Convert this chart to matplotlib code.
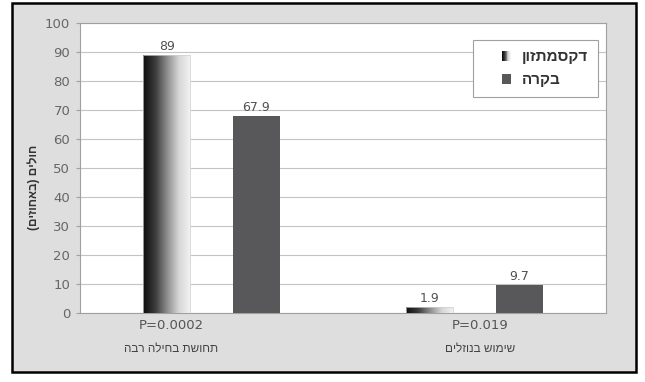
import numpy as np
import matplotlib
matplotlib.use("Agg")
import matplotlib.pyplot as plt
from matplotlib.patches import Rectangle, Patch
from matplotlib.colors import LinearSegmentedColormap
from matplotlib.legend_handler import HandlerBase
from matplotlib.transforms import ScaledTranslation

categories = ["תחושת בחילה רבה", "שימוש בנוזלים"]
p_values = ["P=0.0002", "P=0.019"]
dexa = [89, 1.9]
control = [67.9, 9.7]
series_names = ["דקסמתזון", "בקרה"]
y_label = "חולים (באחוזים)"
y_ticks = list(range(0, 101, 10))


def rtl(s):
    # matplotlib has no bidi support, so reverse hebrew by hand
    flip = {"(": ")", ")": "("}
    return "".join(flip.get(c, c) for c in reversed(s))


grad_cmap = LinearSegmentedColormap.from_list(
    "bar_grad", ["#0e0e0e", "#3a3a3a", "#8c8c8c", "#d6d6d6", "#f4f4f4"])


class SquareHandler(HandlerBase):
    # square key pushed to the right end of the handle slot, optional gradient
    def __init__(self, gradient=False):
        super().__init__()
        self.gradient = gradient

    def create_artists(self, legend, orig_handle, xdescent, ydescent,
                       width, height, fontsize, trans):
        x0 = -xdescent + width - height
        if not self.gradient:
            return [Rectangle((x0, -ydescent), height, height,
                              facecolor=orig_handle.get_facecolor(), edgecolor="none",
                              transform=trans)]
        n = 10
        return [Rectangle((x0 + i * height / n, -ydescent), height / n, height,
                          facecolor=grad_cmap(i / (n - 1)), edgecolor="none",
                          transform=trans) for i in range(n)]


NUM_FONT = ["DejaVu Sans"]
HEB_FONT = ["Liberation Sans", "DejaVu Sans"]
plt.rcParams["font.family"] = HEB_FONT

fig = plt.figure(figsize=(6.45, 3.82), dpi=100)
fig.add_artist(Rectangle((12 / 645, 1 - 372 / 382), 624 / 645, 369 / 382,
                         transform=fig.transFigure, facecolor="#dedede",
                         edgecolor="black", linewidth=1.8, zorder=-1))
ax = fig.add_axes([80 / 645, 1 - 313 / 382, 526 / 645, 290 / 382])
ax.set_facecolor("white")

x = np.arange(len(categories))
w = 0.18
off = 0.17

b1 = ax.bar(x - off, dexa, w, color="none", edgecolor="#cfcfcf", linewidth=0.5, zorder=3)
grad = np.linspace(0, 1, 256).reshape(1, -1)
for rect in b1:
    im = ax.imshow(grad, cmap=grad_cmap, aspect="auto", zorder=2.9,
                   extent=[rect.get_x(), rect.get_x() + rect.get_width(), 0, rect.get_height()])
    im.set_clip_path(rect)
b2 = ax.bar(x + off, control, w, color="#58585a", zorder=3)

for bars, vals in [(b1, dexa), (b2, control)]:
    for rect, v in zip(bars, vals):
        ax.annotate(f"{v:g}", (rect.get_x() + rect.get_width() / 2, v),
                    xytext=(0, 1.5), textcoords="offset points", family=NUM_FONT,
                    ha="center", va="bottom", fontsize=9, color="#505050")

ax.set_xlim(-0.5, 1.5)
ax.set_ylim(0, 100)
ax.set_yticks(y_ticks)
ax.set_yticklabels([str(t) for t in y_ticks], family=NUM_FONT)
ax.yaxis.grid(True, color="#c4c4c4", linewidth=0.8)
ax.set_axisbelow(True)
for sp in ax.spines.values():
    sp.set_color("#a0a0a0")
    sp.set_linewidth(0.8)

# first line of category label = p value (tick label), second = hebrew name
label_dx = [-40, 6]
ax.set_xticks(x)
ax.set_xticklabels(p_values, family=NUM_FONT, fontsize=9.5, color="#555555")
ax.tick_params(axis="x", length=0, pad=4)
ax.tick_params(axis="y", length=3, color="#a0a0a0", labelsize=9.5, labelcolor="#666666", pad=4)
for lbl, dx in zip(ax.get_xticklabels(), label_dx):
    lbl.set_transform(lbl.get_transform() + ScaledTranslation(dx / 100, 0, fig.dpi_scale_trans))
for xi, name, dx in zip(x, categories, label_dx):
    ax.text(xi, -0.121, rtl(name), transform=ax.get_xaxis_transform() + ScaledTranslation(dx / 100, 0, fig.dpi_scale_trans),
            ha="center", va="center", fontsize=8.5, color="#444444")

ax.set_ylabel(rtl(y_label), fontsize=8.5, fontweight="bold", color="#333333")
ax.yaxis.set_label_coords(-0.076, 0.434)

handles = [Patch(facecolor="#888888"), Patch(facecolor="#58585a")]
leg = ax.legend(handles, [rtl(s) for s in series_names],
                handler_map={handles[0]: SquareHandler(gradient=True),
                             handles[1]: SquareHandler()},
                loc="upper right", bbox_to_anchor=(0.985, 0.941), borderaxespad=0,
                fancybox=False, framealpha=1, edgecolor="#a0a0a0",
                prop={"size": 11, "weight": "bold"}, labelspacing=0.6,
                handlelength=1.85, handleheight=0.6, handletextpad=0.7,
                borderpad=0.65)
leg.get_frame().set_linewidth(0.8)
for t in leg.get_texts():
    t.set_color("#333333")

fig.savefig("out.png", dpi=100)
